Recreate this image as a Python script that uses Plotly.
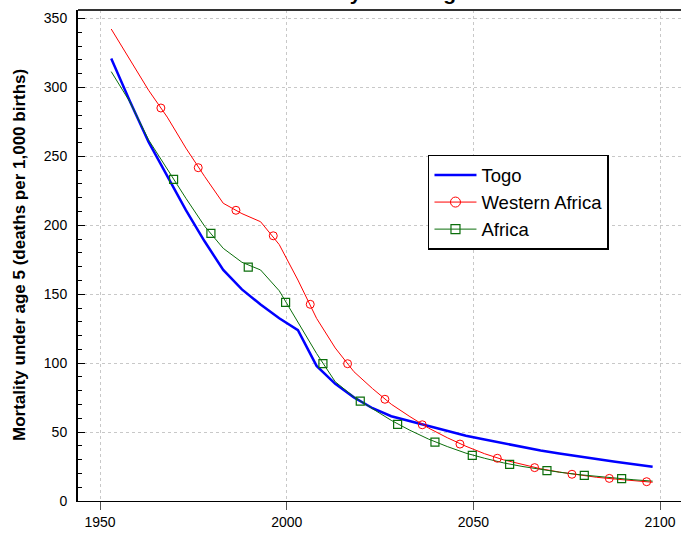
import plotly.graph_objects as go

# ---- data ----
years = [1953, 1958, 1963, 1968, 1973, 1978, 1983, 1988, 1993, 1998,
         2003, 2008, 2013, 2018, 2023, 2028, 2033, 2038, 2043, 2048,
         2053, 2058, 2063, 2068, 2073, 2078, 2083, 2088, 2093, 2098]

togo = [321, 290, 260.5, 235.5, 211, 188.4, 167.6, 153.5, 142.5, 132.6,
        124, 98, 85, 75.2, 67.3, 61.5, 58, 54.4, 50.8, 47.3,
        44.6, 41.8, 39.2, 36.6, 34.4, 32.3, 30.3, 28.4, 26.6, 24.9]

western_africa = [342.4, 320, 298, 278.5, 256, 235.5, 216, 208.5, 202.6, 186,
                  160.3, 132.5, 111, 93.8, 81.5, 70.2, 61.2, 52.9, 45.9, 39.7,
                  34.3, 29.9, 26.4, 23.4, 21, 18.9, 17.2, 15.9, 14.7, 13.6]

africa = [311.5, 289.5, 262, 240.5, 219.6, 199.4, 183.3, 173.2, 167.6, 152.5,
          129.4, 107, 86.5, 75.5, 66.9, 58.5, 51.3, 44.9, 39.5, 34.7,
          31, 27.7, 25.1, 22.8, 20.9, 19.2, 17.8, 16.6, 15.4, 14.4]

# marker positions as they appear on the curves
wa_marker_years = [1966.3, 1976.3, 1986.4, 1996.4, 2006.3, 2016.3, 2026.3,
                   2036.3, 2046.4, 2056.4, 2066.4, 2076.4, 2086.4, 2096.4]
wa_marker_values = [285.1, 241.8, 210.9, 192.4, 142.7, 99.6, 73.8,
                    55.3, 41.3, 31.0, 24.2, 19.4, 16.4, 14.0]

af_marker_years = [1969.7, 1979.7, 1989.7, 1999.7, 2009.7, 2019.7, 2029.7,
                   2039.7, 2049.7, 2059.7, 2069.7, 2079.7, 2089.7]
af_marker_values = [233.3, 194.2, 169.7, 144.1, 99.6, 72.5, 55.6,
                    42.7, 33.1, 26.6, 22.0, 18.6, 16.2]

x_ticks = [1950, 2000, 2050, 2100]
y_ticks = [0, 50, 100, 150, 200, 250, 300, 350]

title_text = "Mortality under age 5"
y_title = "Mortality under age 5 (deaths per 1,000 births)"

BLUE = "#0000ff"
RED = "#ff0000"
GREEN = "#0b6e0b"
FONT = "Liberation Sans, Arial, sans-serif"

fig = go.Figure()

# data lines
fig.add_trace(go.Scatter(x=years, y=togo, mode="lines", name="Togo",
                         line=dict(color=BLUE, width=2.5), showlegend=False))
fig.add_trace(go.Scatter(x=years, y=western_africa, mode="lines", name="Western Africa",
                         line=dict(color=RED, width=1), showlegend=False))
fig.add_trace(go.Scatter(x=years, y=africa, mode="lines", name="Africa",
                         line=dict(color=GREEN, width=1), showlegend=False))
# markers
fig.add_trace(go.Scatter(x=wa_marker_years, y=wa_marker_values, mode="markers",
                         marker=dict(symbol="circle-open", size=8, color=RED,
                                     line=dict(width=1, color=RED)),
                         showlegend=False))
fig.add_trace(go.Scatter(x=af_marker_years, y=af_marker_values, mode="markers",
                         marker=dict(symbol="square-open", size=8, color=GREEN,
                                     line=dict(width=1.2, color=GREEN)),
                         showlegend=False))

# legend entries
fig.add_trace(go.Scatter(x=[None], y=[None], mode="lines", name="Togo",
                         line=dict(color=BLUE, width=2.5)))
fig.add_trace(go.Scatter(x=[None], y=[None], mode="lines+markers", name="Western Africa",
                         line=dict(color=RED, width=1),
                         marker=dict(symbol="circle-open", size=10, color=RED,
                                     line=dict(width=1, color=RED))))
fig.add_trace(go.Scatter(x=[None], y=[None], mode="lines+markers", name="Africa",
                         line=dict(color=GREEN, width=1),
                         marker=dict(symbol="square-open", size=9, color=GREEN,
                                     line=dict(width=1.2, color=GREEN))))

fig.update_layout(
    width=681, height=535,
    margin=dict(l=78, r=0, t=10, b=34),
    paper_bgcolor="white", plot_bgcolor="white",
    font=dict(family=FONT, size=14, color="black"),
    showlegend=True,
    legend=dict(x=0.5804, y=0.7047, xanchor="left", yanchor="top",
                bgcolor="white", bordercolor="black", borderwidth=1.5,
                font=dict(family=FONT, size=18.5, color="black"),
                itemwidth=42, tracegroupgap=0),
    xaxis=dict(range=[1944.1, 2105.6], tickvals=x_ticks, mirror=False,
               ticks="outside", ticklen=8, tickcolor="#555555", tickwidth=1,
               showline=True, linecolor="black", linewidth=1,
               showgrid=True, gridcolor="#c8c8c8", griddash="dot", gridwidth=1,
               zeroline=False, tickfont=dict(size=14)),
    yaxis=dict(range=[0, 356.2], tickvals=y_ticks, mirror=False,
               ticks="inside", ticklen=7, tickcolor="black", tickwidth=1,
               minor=dict(ticks="inside", ticklen=4, dtick=10, tick0=0,
                          tickcolor="black", showgrid=False),
               showline=True, linecolor="black", linewidth=2,
               showgrid=True, gridcolor="#c8c8c8", griddash="dot", gridwidth=1,
               zeroline=False, tickfont=dict(size=14), ticklabelstandoff=6),
    shapes=[dict(type="line", xref="paper", yref="paper", x0=0, x1=1, y0=1, y1=1,
                 line=dict(color="#333333", width=2))],
    annotations=[
        dict(text=title_text, xref="paper", yref="paper", x=0.5, y=1.036,
             xanchor="center", yanchor="middle", showarrow=False,
             font=dict(family=FONT, size=21, color="black", weight="bold")),
        dict(text=y_title, xref="paper", yref="paper", x=-0.0978, y=0.501,
             xanchor="center", yanchor="middle", showarrow=False, textangle=-90,
             font=dict(family=FONT, size=17, color="black", weight="bold")),
    ],
)

fig.write_html("out.html",
               config={"displayModeBar": False},
               post_script="document.body.style.margin='0';document.body.style.overflow='hidden';")
